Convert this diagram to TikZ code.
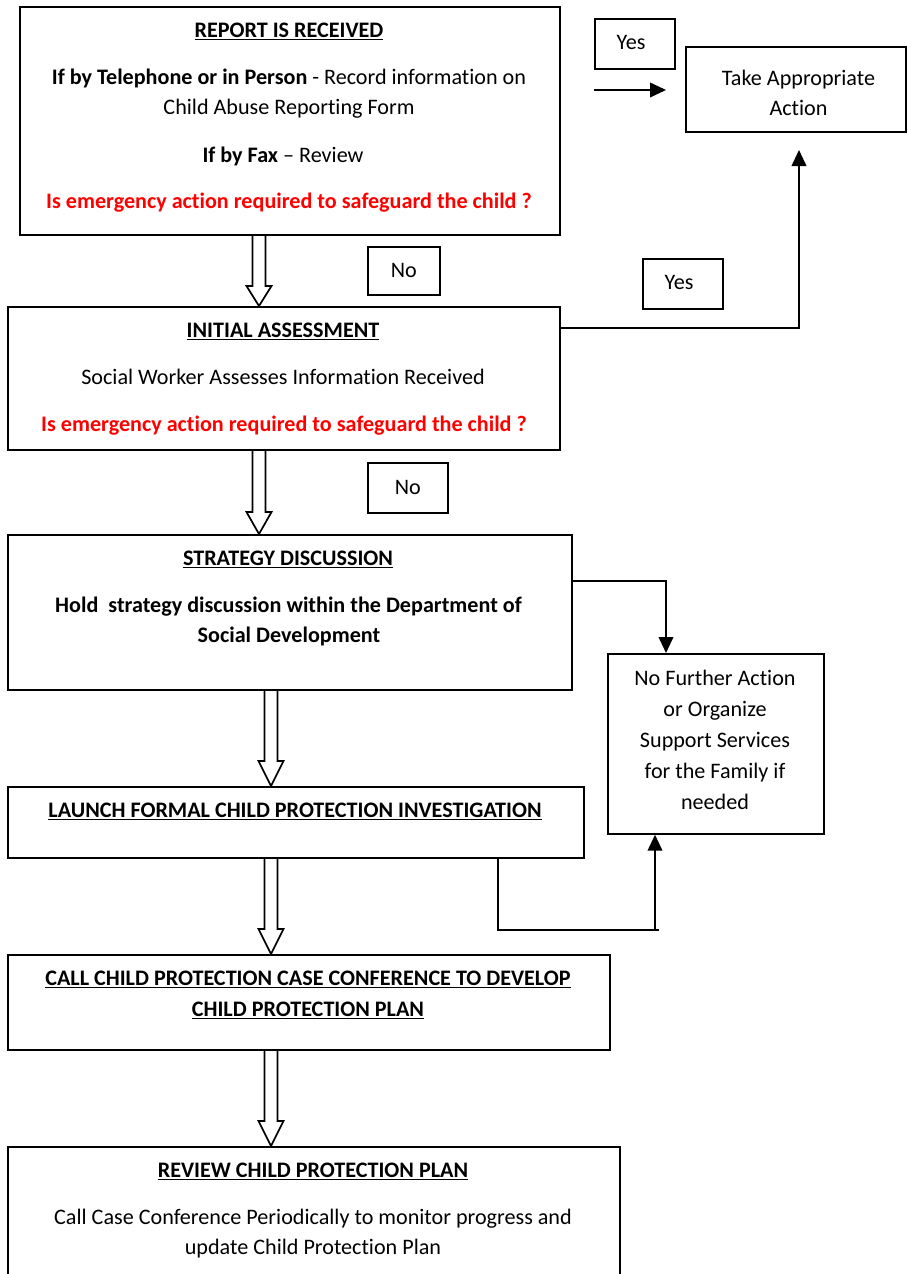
\documentclass[tikz,border=0pt]{standalone}
\usepackage{fontspec}
\setmainfont{Carlito}[RawFeature={-liga;-clig;-dlig;-calt}]
\usetikzlibrary{arrows.meta,calc}
\newcommand\fs{\fontsize{16.6}{20}\selectfont}
\newcommand\harrow[4]{%
  \draw[hollow] ($(#2.south -| #1)+(-6.5,0)$) -- ($(#3.north -| #1)+(-6.5,-#4)$) -- ($(#3.north -| #1)+(-12.5,-#4)$) -- (#3.north -| #1) -- ($(#3.north -| #1)+(12.5,-#4)$) -- ($(#3.north -| #1)+(6.5,-#4)$) -- ($(#2.south -| #1)+(6.5,0)$);}
\begin{document}
\begin{tikzpicture}[x=0.75pt,y=-0.75pt,
  frame/.style 2 args={draw,line width=1.3pt,inner sep=0pt,anchor=north west,
    minimum width=#1*0.75pt,minimum height=#2*0.75pt,font=\fs,align=center},
  txt/.style={inner sep=0pt,font=\fs,text height=12pt,text depth=1pt},
  redtxt/.style={txt,text=red,font=\fs\bfseries},
  hollow/.style={line width=1.3pt,line join=miter},
  conn/.style={line width=1.3pt},
  arr/.style={conn,-{Triangle[length=12pt,width=11pt]}}]
\useasboundingbox (0,0) rectangle (907,1274);

% boxes
\node[frame={540}{228}] (b1) at (19,6) {};
\node[frame={552}{143}] (b2) at (7,306) {};
\node[frame={564}{155}] (b3) at (7,534) {};
\node[frame={576}{71}] (b4) at (7,786) {};
\node[frame={602}{95}] (b5) at (7,954) {};
\node[frame={612}{160}] (b6) at (7,1146) {};
\node[frame={220}{85}] (ta) at (685,46) {};
\node[frame={216}{180}] (nf) at (607,653) {};
\node[frame={80}{50}] (y1) at (594,18) {};
\node[frame={72}{48}] (n1) at (367,246) {No};
\node[frame={80}{50}] (y2) at (642,258) {};
\node[frame={80}{50}] (n2) at (367,462) {No};
\node[txt] (y1t) at (631,42) {Yes};
\node[txt] (y2t) at (679,282) {Yes};

% texts box 1
\node[txt] (t1a) at (289,30) {\bfseries\underline{REPORT IS RECEIVED}};
\node[txt] (t1b) at (289,77) {\textbf{If by Telephone or in Person} - Record information on};
\node[txt] (t1c) at (289,107) {Child Abuse Reporting Form};
\node[txt] (t1d) at (283,155) {\textbf{If by Fax} -- Review};
\node[redtxt] (t1e) at (289,201) {Is emergency action required to safeguard the child ?};
% box 2
\node[txt] (t2a) at (283,330) {\bfseries\underline{INITIAL ASSESSMENT}};
\node[txt] (t2b) at (283,377) {Social Worker Assesses Information Received};
\node[redtxt] (t2c) at (284,424) {Is emergency action required to safeguard the child ?};
% box 3
\node[txt] (t3a) at (288,558) {\bfseries\underline{STRATEGY DISCUSSION}};
\node[txt] (t3b) at (288.5,605) {\bfseries Hold\ \ strategy discussion within the Department of};
\node[txt] (t3c) at (289,635) {\bfseries Social Development};
% box 4
\node[txt] (t4a) at (295,810) {\bfseries\underline{LAUNCH FORMAL CHILD PROTECTION INVESTIGATION}};
% box 5
\node[txt] (t5a) at (308,978) {\bfseries\underline{CALL CHILD PROTECTION CASE CONFERENCE TO DEVELOP}};
\node[txt] (t5b) at (308,1009) {\bfseries\underline{CHILD PROTECTION PLAN}};
% box 6
\node[txt] (t6a) at (313,1170) {\bfseries\underline{REVIEW CHILD PROTECTION PLAN}};
\node[txt] (t6b) at (313,1217) {Call Case Conference Periodically to monitor progress and};
\node[txt] (t6c) at (313,1247) {update Child Protection Plan};
% take action
\node[txt] (tta) at (798.5,78) {Take Appropriate};
\node[txt] (ttb) at (798.5,108) {Action};
% no further
\node[txt] (nfa) at (715,678) {No Further Action};
\node[txt] (nfb) at (715,709) {or Organize};
\node[txt] (nfc) at (715,740) {Support Services};
\node[txt] (nfd) at (715,771) {for the Family if};
\node[txt] (nfe) at (715,802) {needed};

% hollow arrows
\coordinate (xa) at (259,0);
\coordinate (xb) at (271,0);
\harrow{xa}{b1}{b2}{20}
\harrow{xa}{b2}{b3}{22}
\harrow{xb}{b3}{b4}{25}
\harrow{xb}{b4}{b5}{25}
\harrow{xb}{b5}{b6}{25}

% connectors
\coordinate (c1s) at (594,90);
\coordinate (c1e) at (666,90);
\draw[arr] (c1s) -- (c1e);

\coordinate (c2s) at (559,328);
\coordinate (c2e) at (799,150);
\draw[arr] (c2s) -| (c2e);

\coordinate (c3s) at (571,581);
\coordinate (c3x) at (666,0);
\draw[arr] (c3s) -| (nf.north -| c3x);

\coordinate (c4x) at (498,0);
\coordinate (c4c) at (659,930);
\coordinate (c4u) at (655,930);
\draw[conn] (b4.south -| c4x) |- (c4c);
\draw[arr] (c4u) -- (nf.south -| c4u);
\end{tikzpicture}
\end{document}
